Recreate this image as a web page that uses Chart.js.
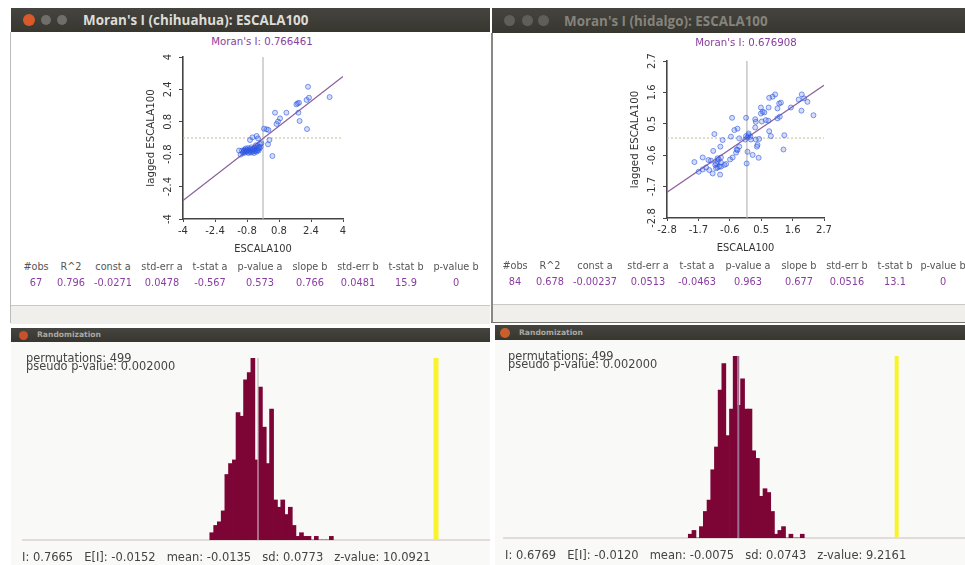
<!DOCTYPE html>
<html>
<head>
<meta charset="utf-8">
<title>Moran's I</title>
<script src="https://cdn.jsdelivr.net/npm/chart.js@4"></script>
<style>
  html, body { margin: 0; padding: 0; background: #fff; overflow: hidden; }
  #stage { position: relative; width: 965px; height: 565px; overflow: hidden; filter: blur(0.7px); font-family: "DejaVu Sans", sans-serif; }
  #stage div, #stage span, #stage canvas { position: absolute; }
  .bar { background: linear-gradient(#45443f, #37362f); }
  .client { background: #fff; }
  .status { background: #f0efec; border-top: 1px solid #c8c8c4; }
  .hist { background: #f9f9f7; }
  .dot { border-radius: 50%; }
  .wintitle { font: bold 13.4px "Open Sans", sans-serif; white-space: nowrap; }
  .small { font: bold 7.6px "DejaVu Sans", sans-serif; color: #a9a7a0; white-space: nowrap; }
  .moran { font-size: 10.2px; color: #8a3da0; white-space: nowrap; transform: translateX(-50%); }
  .th { font-size: 9.7px; color: #555; white-space: nowrap; transform: translateX(-50%); }
  .td { font-size: 9.8px; color: #8a3da0; white-space: nowrap; transform: translateX(-50%); }
  .perm { font-size: 11.4px; color: #444; white-space: nowrap; }
  .stats { font-size: 11.5px; color: #444; white-space: pre; }
</style>
</head>
<body>
<div id="stage">
  <div style="left:11px;top:32px;width:479px;height:273px" class="client"></div>
  <div style="left:11px;top:8px;width:479px;height:24px" class="bar"></div>
  <div style="left:23px;top:14px;width:12px;height:12px;background:#d9592b" class="dot"></div>
  <div style="left:41px;top:15px;width:10px;height:10px;background:#6f6e68" class="dot"></div>
  <div style="left:57px;top:15px;width:10px;height:10px;background:#6f6e68" class="dot"></div>
  <span class="wintitle" style="left:83px;top:11px;color:#dedcd6">Moran's I (chihuahua): ESCALA100</span>
  <div style="left:11px;top:305px;width:479px;height:18px" class="status"></div>
  <div style="left:10px;top:32px;width:1px;height:291px;background:#bbb"></div>

  <div style="left:493px;top:33px;width:472px;height:272px" class="client"></div>
  <div style="left:492px;top:8px;width:473px;height:25px" class="bar"></div>
  <div style="left:504px;top:15px;width:11px;height:11px;background:#5f5e58" class="dot"></div>
  <div style="left:522px;top:15px;width:11px;height:11px;background:#5f5e58" class="dot"></div>
  <div style="left:538px;top:15px;width:11px;height:11px;background:#5f5e58" class="dot"></div>
  <span class="wintitle" style="left:564px;top:12px;color:#85837b">Moran's I (hidalgo): ESCALA100</span>
  <div style="left:493px;top:304px;width:472px;height:18px" class="status"></div>
  <div style="left:491px;top:33px;width:2px;height:290px;background:#8a8884"></div>
  <div style="left:491px;top:322px;width:474px;height:1px;background:#77756f"></div>

  <div style="left:11px;top:342px;width:479px;height:223px" class="hist"></div>
  <div style="left:11px;top:328px;width:479px;height:14px" class="bar"></div>
  <div style="left:19px;top:331px;width:9px;height:9px;background:#c9502c" class="dot"></div>
  <span class="small" style="left:37px;top:330px">Randomization</span>

  <div style="left:495px;top:340px;width:470px;height:225px" class="hist"></div>
  <div style="left:495px;top:325px;width:470px;height:15px" class="bar"></div>
  <div style="left:500px;top:328px;width:10px;height:10px;background:#c9602c" class="dot"></div>
  <span class="small" style="left:519px;top:328px">Randomization</span>

  <span class="moran" style="left:262px;top:36px">Moran's I: 0.766461</span>
  <span class="moran" style="left:746px;top:37px">Moran's I: 0.676908</span>

  <canvas id="scatterLeft" width="219" height="214" style="left:141px;top:49px"></canvas>
  <canvas id="scatterRight" width="216" height="209" style="left:625px;top:53px"></canvas>
  <canvas id="histLeft" width="468" height="186" style="left:22px;top:356px"></canvas>
  <canvas id="histRight" width="462" height="186" style="left:503px;top:354px"></canvas>

  <span class="perm" style="left:26px;top:351px">permutations: 499</span>
  <span class="perm" style="left:26px;top:359px">pseudo p-value: 0.002000</span>
  <span class="perm" style="left:508px;top:349px">permutations: 499</span>
  <span class="perm" style="left:508px;top:357px">pseudo p-value: 0.002000</span>
  <span class="stats" style="left:22px;top:550px">I: 0.7665   E[I]: -0.0152   mean: -0.0135   sd: 0.0773   z-value: 10.0921</span>
  <span class="stats" style="left:505px;top:548px">I: 0.6769   E[I]: -0.0120   mean: -0.0075   sd: 0.0743   z-value: 9.2161</span>
</div>

<script>
var tableHeads = ['#obs', 'R^2', 'const a', 'std-err a', 't-stat a', 'p-value a', 'slope b', 'std-err b', 't-stat b', 'p-value b'];
var leftRow = ['67', '0.796', '-0.0271', '0.0478', '-0.567', '0.573', '0.766', '0.0481', '15.9', '0'];
var rightRow = ['84', '0.678', '-0.00237', '0.0513', '-0.0463', '0.963', '0.677', '0.0516', '13.1', '0'];

var leftTicks = [-4, -2.4, -0.8, 0.8, 2.4, 4];
var rightTicks = [-2.8, -1.7, -0.6, 0.5, 1.6, 2.7];

var leftX = [2.25, 3.33, 2.3, 2.18, 1.73, 1.67, 1.8, 1.77, 1.83, 2.2, 1.17, 0.6, 0.85, 0.75, 0.68, 0.18, 0.05, 0.27, 0.32, 0.25, 0.47, -0.32, -0.53, -0.65, -0.25,
  -1.2, -1.12, -1.05, -1.0, -0.98, -0.95, -0.92, -0.9, -0.87, -0.85, -0.82, -0.8, -0.78, -0.75, -0.73, -0.7, -0.68, -0.65, -0.62, -0.6, -0.58,
  -0.55, -0.52, -0.5, -0.48, -0.45, -0.42, -0.4, -0.38, -0.36, -0.34, -0.32, -0.3, -0.28, -0.26, -0.24, -0.22, -0.2, -0.18, -0.15, -0.12, -0.08];
var leftY = [2.53, 2.02, 1.99, 1.88, 1.71, 1.66, 1.74, 1.25, 0.84, 0.44, 1.25, 1.25, 0.97, 0.81, 0.69, 0.43, 0.46, 0.4, -0.1, -0.31, -0.89, 0.1, 0.03, -0.1, -0.02,
  -0.62, -0.82, -0.62, -0.75, -0.68, -0.6, -0.62, -0.72, -0.52, -0.66, -0.58, -0.68, -0.62, -0.5, -0.74, -0.6, -0.68, -0.54, -0.64, -0.72, -0.46,
  -0.6, -0.68, -0.54, -0.64, -0.74, -0.56, -0.48, -0.64, -0.36, -0.58, -0.68, -0.5, -0.6, -0.4, -0.52, -0.62, -0.44, -0.52, -0.3, -0.44, -0.26];

var rightX = [-1.84, -1.55, -1.35, -1.26, -0.91, -0.99, -1.03, -1.69, -1.55, -1.43, -1.2, -0.94, -1.03, -0.97, -0.91, -0.79, -0.73, -1.08, -1.11, -0.59, -0.5, -0.38, -0.33, -1.18, -0.93, -0.85, -1.14, -0.56, -0.44, -0.33, -0.52, -0.03, -0.01, 0.02, 0.2, 0.41, -0.27, -0.03, 0.06, 0.12, 0.02, -0.06, 0.31, 0.43, 0.37, 0.35, 0.29, 0.29, 0.52, 0.49, 0.55, 0.49, 0.61, 0.76, 0.75, 0.78, 0.84, 1.31, 1.28, 1.15, 1.07, 1.13, 1.19, 1.07, 0.78, 0.9, 0.99, 1.54, 1.81, 1.92, 2.0, 2.12, 1.91, 2.33, 0.06, 0.14, -0.27, -0.36, 0.31, 0.66, -1.03, -0.91, -1.08, -1.32];
var rightY = [-0.84, -0.68, -0.77, -0.79, -0.68, -0.75, -0.71, -1.18, -1.1, -1.03, -1.24, -1.28, -1.03, -1.0, -1.0, -0.94, -0.91, -1.06, -0.94, -0.75, -0.68, -0.51, -0.42, -0.45, -0.3, -0.07, 0.14, 0.05, 0.28, 0.33, 0.71, 0.71, -0.89, -0.48, -0.59, -0.69, -0.01, 0.07, 0.1, 0.05, 0.02, -0.05, -0.05, -0.03, -0.24, -0.3, 0.37, 0.66, 0.58, 1.07, 0.92, 0.86, 0.9, 1.07, 0.61, 0.24, 0.07, 0.1, -0.4, 0.75, 0.69, 1.21, 1.24, 1.04, 1.41, 1.45, 1.53, 1.07, 1.35, 1.53, 1.39, 1.27, 0.96, 0.8, 0.16, -0.05, -0.3, -0.4, 0.57, 0.63, -0.83, -0.86, -0.89, -1.12];

var leftLineX = [-4, 4];
var leftLineY = [-3.09, 3.04];
var rightLineX = [-2.8, 2.7];
var rightLineY = [-1.9, 1.85];

var leftBins = [-0.216, -0.199, -0.183, -0.166, -0.15, -0.134, -0.117, -0.101, -0.085, -0.068, -0.052, -0.036, -0.019, -0.003, 0.014, 0.03, 0.046, 0.063, 0.079, 0.095, 0.112, 0.128, 0.144, 0.161, 0.177, 0.193, 0.21, 0.226, 0.242, 0.259, 0.275, 0.291, 0.308];
var leftCounts = [2, 4, 5, 8, 18, 21, 22, 35, 34, 44, 46, 50, 22, 42, 31, 21, 36, 11, 9, 11, 7, 9, 4, 1, 2, 1, 1, 0, 1, 0, 0, 0, 1];
var rightBins = [-0.215, -0.199, -0.183, -0.167, -0.15, -0.134, -0.118, -0.102, -0.086, -0.07, -0.054, -0.037, -0.021, -0.005, 0.011, 0.027, 0.043, 0.059, 0.075, 0.091, 0.108, 0.124, 0.14, 0.156, 0.172, 0.188, 0.204, 0.22, 0.237, 0.253, 0.269];
var rightCounts = [1, 2, 0, 3, 7, 10, 18, 24, 39, 46, 27, 34, 48, 35, 42, 34, 34, 23, 21, 11, 13, 12, 7, 1, 2, 3, 0, 1, 0, 0, 1];

var leftStats = { moranI: 0.7665, mean: -0.0135, xMin: -1.0477, xMax: 1.0032, top: 50 };
var rightStats = { moranI: 0.6769, mean: -0.0075, xMin: -1.0243, xMax: 0.9722, top: 48 };

Chart.defaults.font.family = '"DejaVu Sans", sans-serif';
Chart.defaults.animation = false;

function addRow(items, centers, top, cls) {
  var stage = document.getElementById('stage');
  items.forEach(function (txt, i) {
    var s = document.createElement('span');
    s.className = cls;
    s.textContent = txt;
    s.style.left = centers[i] + 'px';
    s.style.top = top + 'px';
    stage.appendChild(s);
  });
}
var leftCols = [36, 71, 113, 162, 210, 260, 310, 358, 406, 456];
var rightCols = [515, 550, 595, 648, 697, 748, 799, 847, 895, 943];
addRow(tableHeads, leftCols, 261, 'th');
addRow(leftRow, leftCols, 277, 'td');
addRow(tableHeads, rightCols, 260, 'th');
addRow(rightRow, rightCols, 276, 'td');

function pairs(xs, ys) {
  return xs.map(function (x, i) { return { x: x, y: ys[i] }; });
}

function scatterChart(id, ticks, xs, ys, lineX, lineY, rightPad) {
  var lo = ticks[0], hi = ticks[ticks.length - 1];
  new Chart(id, {
    type: 'scatter',
    data: {
      datasets: [
        { data: pairs([0, 0], [lo, hi]), showLine: true, pointRadius: 0, borderColor: '#b8b8b8', borderWidth: 1.2, order: 4 },
        { data: pairs([lo, hi], [0, 0]), showLine: true, pointRadius: 0, borderColor: '#c0be98', borderWidth: 1, borderDash: [2, 2], order: 3 },
        { data: pairs(lineX, lineY), showLine: true, pointRadius: 0, borderColor: '#8c6098', borderWidth: 1.3, order: 2 },
        { data: pairs(xs, ys), pointRadius: 2.5, borderWidth: 1, pointBorderColor: 'rgba(40,85,225,0.58)', pointBackgroundColor: 'rgba(80,110,235,0.24)', order: 1 }
      ]
    },
    options: {
      responsive: false,
      layout: { padding: { left: 4, right: rightPad, top: 8, bottom: 4 } },
      plugins: { legend: { display: false }, tooltip: { enabled: false } },
      scales: {
        x: {
          type: 'linear', min: lo, max: hi,
          afterBuildTicks: function (s) { s.ticks = ticks.map(function (v) { return { value: v }; }); },
          afterFit: function (s) { s.height = 40; },
          grid: { drawOnChartArea: false, tickLength: 3, color: '#444' },
          border: { color: '#444', width: 1.6 },
          ticks: { color: '#333', font: { size: 10 }, padding: 3, maxRotation: 0, autoSkip: false, callback: function (v) { return String(v); } },
          title: { display: true, text: 'ESCALA100', color: '#333', font: { size: 9.9 }, padding: { top: 0, bottom: 4 } }
        },
        y: {
          type: 'linear', min: lo, max: hi,
          afterBuildTicks: function (s) { s.ticks = ticks.map(function (v) { return { value: v }; }); },
          afterFit: function (s) { s.width = 38; },
          grid: { drawOnChartArea: false, tickLength: 4, color: '#444' },
          border: { color: '#444', width: 1.6 },
          ticks: { color: '#333', font: { size: 10 }, padding: 1, minRotation: 90, maxRotation: 90, crossAlign: 'center', autoSkip: false, callback: function (v) { return String(v); } },
          title: { display: true, text: 'lagged ESCALA100', color: '#333', font: { size: 10.2 }, padding: 0 }
        }
      }
    }
  });
}

function histChart(id, bins, counts, st, meanColor, meanWidth, yellowWidth) {
  new Chart(id, {
    type: 'bar',
    data: {
      datasets: [
        { type: 'line', data: pairs([st.xMin, st.xMax], [0, 0]), pointRadius: 0, borderColor: '#cdbcbc', borderWidth: 1, clip: false, order: 4 },
        { type: 'bar', data: pairs(bins, counts), backgroundColor: '#7d0536', barThickness: 4, order: 3 },
        { type: 'line', data: pairs([st.mean, st.mean], [0, st.top]), pointRadius: 0, borderColor: meanColor, borderWidth: meanWidth, clip: false, order: 2 },
        { type: 'line', data: pairs([st.moranI, st.moranI], [0, st.top]), pointRadius: 0, borderColor: '#f8f32a', borderWidth: yellowWidth, clip: false, order: 1 }
      ]
    },
    options: {
      responsive: false,
      layout: { padding: { top: 2, bottom: 2 } },
      plugins: { legend: { display: false }, tooltip: { enabled: false } },
      scales: {
        x: { type: 'linear', min: st.xMin, max: st.xMax, offset: false, display: false },
        y: { min: 0, max: st.top, display: false }
      }
    }
  });
}

scatterChart('scatterLeft', leftTicks, leftX, leftY, leftLineX, leftLineY, 17);
scatterChart('scatterRight', rightTicks, rightX, rightY, rightLineX, rightLineY, 17);
histChart('histLeft', leftBins, leftCounts, leftStats, '#c9b5bd', 1.2, 5);
histChart('histRight', rightBins, rightCounts, rightStats, '#9b7193', 2, 4);
</script>
</body>
</html>
